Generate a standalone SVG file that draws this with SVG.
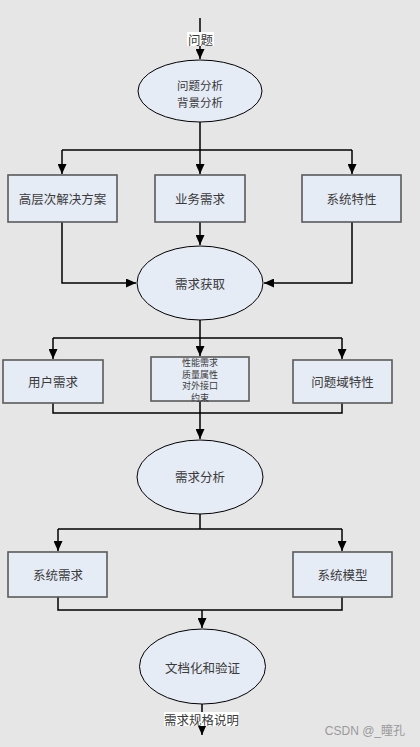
<svg xmlns="http://www.w3.org/2000/svg" width="420" height="747" viewBox="0 0 420 747">
<defs>
<marker id="ah" viewBox="0 0 10 10" refX="10" refY="5" markerWidth="10" markerHeight="9" markerUnits="userSpaceOnUse" orient="auto" preserveAspectRatio="none"><path d="M0,0 L10,5 L0,10 z" fill="#000"/></marker>
<style>
.bx{fill:#e6ecf6;stroke:#5a5a5a;stroke-width:1.6}
.el{fill:#e6ecf6;stroke:#000;stroke-width:1}
.t{font-family:"Noto Sans CJK SC",sans-serif;font-size:12.5px;fill:#3a3a3a;text-anchor:middle;dominant-baseline:central}
.m{font-size:11.5px}
.s{font-size:9px}
.c{fill:none;stroke:#000;stroke-width:1.5}
.lb{fill:#fff}
</style>
</defs>
<rect width="420" height="747" fill="#e6e6e6"/>
<g id="connectors">
<path class="c" d="M200,18 V59" marker-end="url(#ah)"/>
<path class="c" d="M200,122 V150"/>
<path class="c" d="M62,150 H352"/>
<path class="c" d="M62,150 V174" marker-end="url(#ah)"/>
<path class="c" d="M200,150 V174" marker-end="url(#ah)"/>
<path class="c" d="M352,150 V174" marker-end="url(#ah)"/>
<path class="c" d="M200,222 V245" marker-end="url(#ah)"/>
<path class="c" d="M62,222 V283 H136" marker-end="url(#ah)"/>
<path class="c" d="M352,222 V283 H264" marker-end="url(#ah)"/>
<path class="c" d="M200,320 V338"/>
<path class="c" d="M53,338 H342"/>
<path class="c" d="M53,338 V359" marker-end="url(#ah)"/>
<path class="c" d="M200,338 V356" marker-end="url(#ah)"/>
<path class="c" d="M342,338 V359" marker-end="url(#ah)"/>
<path class="c" d="M53,403 V413 H342 V403"/>
<path class="c" d="M200,401 V439" marker-end="url(#ah)"/>
<path class="c" d="M200,514 V529"/>
<path class="c" d="M58,529 H342"/>
<path class="c" d="M58,529 V551" marker-end="url(#ah)"/>
<path class="c" d="M342,529 V551" marker-end="url(#ah)"/>
<path class="c" d="M58,597 V610 H342 V597"/>
<path class="c" d="M202,610 V628" marker-end="url(#ah)"/>
<path class="c" d="M202,704 V735" marker-end="url(#ah)"/>
<rect class="lb" x="187" y="32" width="27" height="14"/>
<text class="t" x="200.5" y="39">问题</text>
<rect class="lb" x="164" y="712" width="75" height="14"/>
<text class="t" x="201.5" y="719">需求规格说明</text>
</g>
<g id="n1"><ellipse class="el" cx="200" cy="91" rx="62" ry="31"/><text class="t m" x="200" y="85">问题分析<tspan x="200" dy="17">背景分析</tspan></text></g>
<g id="n2"><rect class="bx" x="8" y="175" width="109" height="47"/><text class="t" x="62.5" y="198">高层次解决方案</text></g>
<g id="n3"><rect class="bx" x="155" y="175" width="90" height="47"/><text class="t" x="200" y="198">业务需求</text></g>
<g id="n4"><rect class="bx" x="302" y="175" width="99" height="47"/><text class="t" x="351.5" y="198">系统特性</text></g>
<g id="n5"><ellipse class="el" cx="200" cy="283" rx="63" ry="37"/><text class="t" x="200" y="283">需求获取</text></g>
<g id="n6"><rect class="bx" x="3" y="360" width="100" height="43"/><text class="t" x="53" y="381">用户需求</text></g>
<g id="n7"><rect class="bx" x="151" y="357" width="98" height="44"/><text class="t s" x="200" y="362">性能需求<tspan x="200" dy="11.7">质量属性</tspan><tspan x="200" dy="11.7">对外接口</tspan><tspan x="200" dy="11.7">约束</tspan></text></g>
<g id="n8"><rect class="bx" x="293" y="360" width="99" height="43"/><text class="t" x="342.5" y="381">问题域特性</text></g>
<g id="n9"><ellipse class="el" cx="200" cy="477" rx="63" ry="37"/><text class="t" x="200" y="476">需求分析</text></g>
<g id="n10"><rect class="bx" x="8" y="552" width="99" height="45"/><text class="t" x="58" y="574">系统需求</text></g>
<g id="n11"><rect class="bx" x="293" y="552" width="99" height="45"/><text class="t" x="342.5" y="574">系统模型</text></g>
<g id="n12"><ellipse class="el" cx="202.5" cy="666.5" rx="63" ry="37.5"/><text class="t" x="202.5" y="667">文档化和验证</text></g>
<text x="405" y="735" font-family="'Liberation Sans','Noto Sans CJK SC',sans-serif" font-size="12" fill="#9a9a9a" text-anchor="end">CSDN @_瞳孔</text>
</svg>
